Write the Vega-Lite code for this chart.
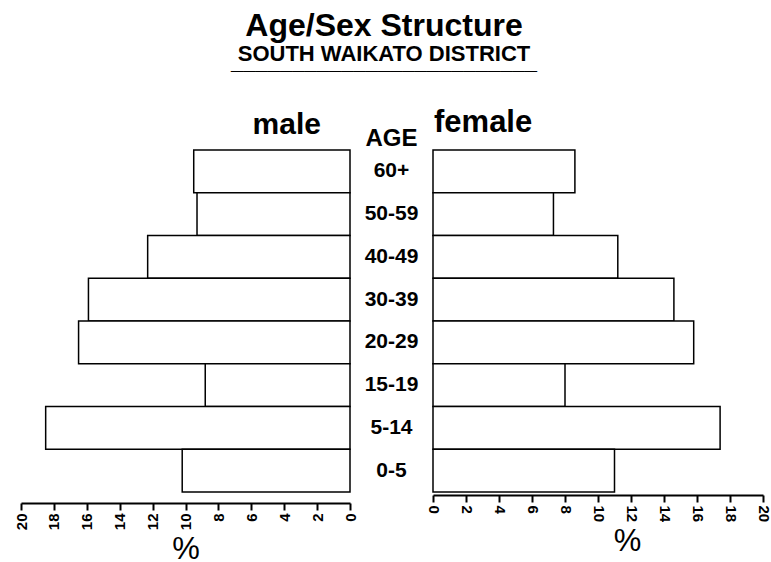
{
  "$schema": "https://vega.github.io/schema/vega-lite/v6.json",
  "padding": {"left": 14, "top": 10, "right": 5, "bottom": 0},
  "title": {
    "text": "Age/Sex Structure",
    "subtitle": ["SOUTH WAIKATO DISTRICT", "_________________________"],
    "font": "Liberation Sans",
    "fontSize": 32,
    "fontWeight": "bold",
    "color": "black",
    "subtitleFont": "Liberation Sans",
    "subtitleFontSize": 22,
    "subtitleFontWeight": "bold",
    "subtitleColor": "black",
    "subtitleLineHeight": 8,
    "subtitlePadding": 1,
    "anchor": "middle",
    "offset": 33,
    "dx": -8
  },
  "data": {
    "values": [
      {"age": "60+", "sex": "male", "pct": 9.5},
      {"age": "50-59", "sex": "male", "pct": 9.3},
      {"age": "40-49", "sex": "male", "pct": 12.3},
      {"age": "30-39", "sex": "male", "pct": 15.9},
      {"age": "20-29", "sex": "male", "pct": 16.5},
      {"age": "15-19", "sex": "male", "pct": 8.8},
      {"age": "5-14", "sex": "male", "pct": 18.5},
      {"age": "0-5", "sex": "male", "pct": 10.2},
      {"age": "60+", "sex": "female", "pct": 8.6},
      {"age": "50-59", "sex": "female", "pct": 7.3},
      {"age": "40-49", "sex": "female", "pct": 11.2},
      {"age": "30-39", "sex": "female", "pct": 14.6},
      {"age": "20-29", "sex": "female", "pct": 15.8},
      {"age": "15-19", "sex": "female", "pct": 8.0},
      {"age": "5-14", "sex": "female", "pct": 17.4},
      {"age": "0-5", "sex": "female", "pct": 11.0}
    ]
  },
  "spacing": 0,
  "bounds": "flush",
  "hconcat": [
    {
      "width": 329,
      "height": 342,
      "title": {"text": "male", "font": "Liberation Sans", "fontSize": 30, "fontWeight": "bold", "color": "black", "anchor": "end", "dx": -37, "offset": 9},
      "transform": [{"filter": "datum.sex == 'male'"}],
      "mark": {"type": "bar", "fill": "white", "stroke": "black", "strokeWidth": 1.5},
      "encoding": {
        "y": {"field": "age", "type": "nominal", "sort": ["60+", "50-59", "40-49", "30-39", "20-29", "15-19", "5-14", "0-5"], "axis": null, "scale": {"paddingInner": 0, "paddingOuter": 0}},
        "x": {
          "field": "pct", "type": "quantitative",
          "scale": {"domain": [0, 20], "reverse": true},
          "axis": {
            "title": "%", "values": [0, 2, 4, 6, 8, 10, 12, 14, 16, 18, 20],
            "offset": 11, "labelAngle": 270, "labelFont": "Liberation Sans", "labelFontSize": 15, "labelFontWeight": "bold", "labelColor": "black",
            "labelFlush": false, "labelOverlap": false, "labelPadding": 3,
            "domainColor": "black", "domainWidth": 2, "tickColor": "black", "tickWidth": 2, "tickSize": 7, "grid": false,
            "titleFont": "Liberation Sans", "titleFontSize": 31, "titleFontWeight": "normal", "titleColor": "black", "titlePadding": 5
          }
        }
      }
    },
    {
      "width": 83,
      "height": 342,
      "title": {"text": "AGE", "font": "Liberation Sans", "fontSize": 24, "fontWeight": "bold", "color": "black", "anchor": "middle", "offset": -1},
      "transform": [{"filter": "datum.sex == 'male'"}],
      "mark": {"type": "text", "font": "Liberation Sans", "fontSize": 21, "fontWeight": "bold", "color": "black"},
      "encoding": {
        "y": {"field": "age", "type": "nominal", "sort": ["60+", "50-59", "40-49", "30-39", "20-29", "15-19", "5-14", "0-5"], "axis": null, "scale": {"paddingInner": 0, "paddingOuter": 0}},
        "text": {"field": "age", "type": "nominal"}
      }
    },
    {
      "width": 330,
      "height": 342,
      "title": {"text": "female", "font": "Liberation Sans", "fontSize": 31, "fontWeight": "bold", "color": "black", "anchor": "start", "dx": 9, "offset": 10},
      "transform": [{"filter": "datum.sex == 'female'"}],
      "mark": {"type": "bar", "fill": "white", "stroke": "black", "strokeWidth": 1.5},
      "encoding": {
        "y": {"field": "age", "type": "nominal", "sort": ["60+", "50-59", "40-49", "30-39", "20-29", "15-19", "5-14", "0-5"], "axis": null, "scale": {"paddingInner": 0, "paddingOuter": 0}},
        "x": {
          "field": "pct", "type": "quantitative",
          "scale": {"domain": [0, 20]},
          "axis": {
            "title": "%", "values": [0, 2, 4, 6, 8, 10, 12, 14, 16, 18, 20],
            "offset": 3, "labelAngle": 90, "labelFont": "Liberation Sans", "labelFontSize": 15, "labelFontWeight": "bold", "labelColor": "black",
            "labelFlush": false, "labelOverlap": false, "labelPadding": 3,
            "domainColor": "black", "domainWidth": 2, "tickColor": "black", "tickWidth": 2, "tickSize": 7, "grid": false,
            "titleFont": "Liberation Sans", "titleFontSize": 31, "titleFontWeight": "normal", "titleColor": "black", "titlePadding": 5, "titleX": 194
          }
        }
      }
    }
  ],
  "config": {"view": {"stroke": null}, "font": "Liberation Sans"}
}
